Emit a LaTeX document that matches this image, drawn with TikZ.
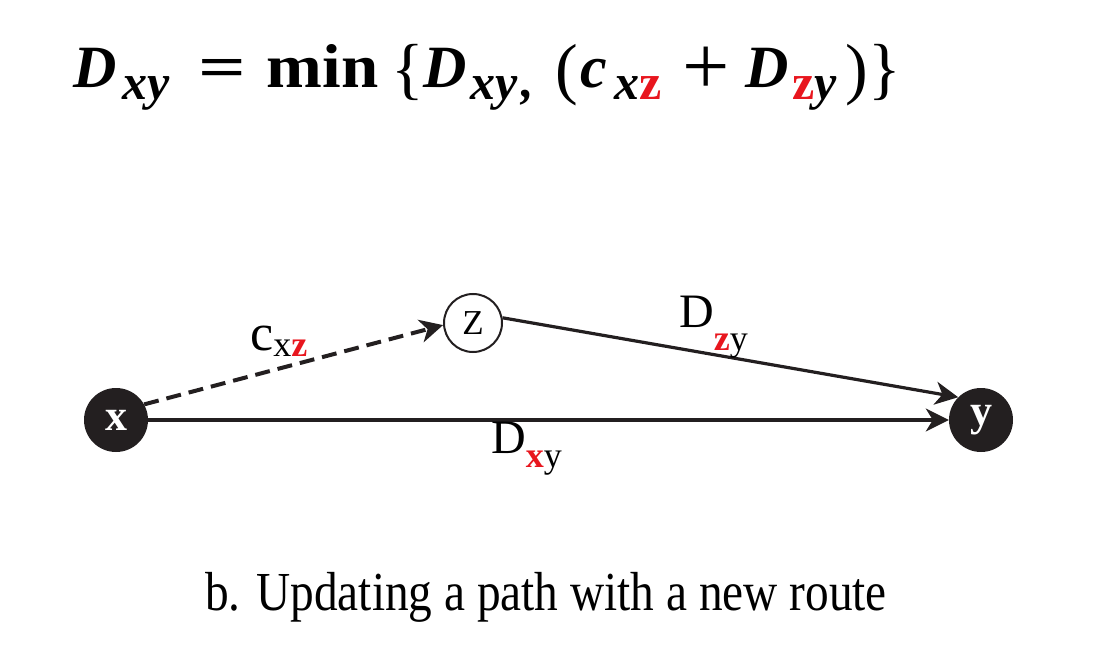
\documentclass[tikz,border=0pt]{standalone}
\usepackage{fontspec}
\setmainfont{Liberation Serif}
\usetikzlibrary{arrows.meta}
\definecolor{lred}{RGB}{232,22,30}
\definecolor{nodeblack}{RGB}{35,31,32}
% place #3 at horizontal offset #1 pt, raised by #2 pt
\newcommand{\putat}[3]{\rlap{\hspace{#1pt}\raisebox{#2pt}{#3}}}
\newcommand{\fbig}{\fontsize{60}{60}\selectfont\bfseries\itshape}
\newcommand{\fsm}{\fontsize{50}{50}\selectfont\bfseries\itshape}
\newcommand{\fdel}{\fontsize{68}{68}\selectfont\mdseries\upshape}
\newcommand{\rzs}{\textcolor{lred}{\upshape z}}
\newcommand{\fmlatext}{%
\putat{73}{0}{\fbig D}%
\putat{122}{-12}{\fsm xy}%
\putat{198}{0}{\fontsize{60}{60}\selectfont\bfseries\scalebox{1.4}[1]{=}}%
\putat{266}{0}{\fontsize{62}{62}\selectfont\bfseries\scalebox{1.08}[1]{min}}%
\putat{391}{-4}{\fdel\{}%
\putat{423}{0}{\fbig D}%
\putat{470}{-12}{\fsm xy}%
\putat{521}{-10}{\fsm ,}%
\putat{555}{-4}{\fdel (}%
\putat{580}{0}{\fbig c}%
\putat{614}{-12}{\fsm x}%
\putat{639}{-12}{\fsm\rzs}%
\putat{682}{-7}{\fontsize{84}{84}\selectfont\mdseries\upshape +}%
\putat{745}{0}{\fbig D}%
\putat{792}{-12}{\fsm\rzs y}%
\putat{845}{-4}{\fdel )}%
\putat{868}{-4}{\fdel\}}%
\hspace{900pt}}
\newcommand{\captext}{\scalebox{0.86}[1]{\fontsize{55}{55}\selectfont b. Updating a path with a new route}}
\begin{document}
\begin{tikzpicture}[x=1pt,y=-1pt,
  blacknode/.style={circle,fill=nodeblack,minimum size=64pt,inner sep=0pt,text=white,font=\fontsize{44}{44}\selectfont\bfseries},
  whitenode/.style={circle,draw=nodeblack,line width=2pt,minimum size=58pt,inner sep=0pt,font=\fontsize{35}{35}\selectfont},
  conn/.style={draw=nodeblack,line width=3.2pt,-{Stealth[length=23pt,width=23pt,inset=7pt]}},
  dashconn/.style={conn,line width=4pt,dash pattern=on 15pt off 8pt},
  lbl/.style={anchor=base west,inner sep=0pt,font=\fontsize{48}{48}\selectfont}
]
\useasboundingbox (0,0) rectangle (1114,652);

% formula
\node[anchor=base west,inner sep=0pt] (formula) at (0,88) {\fmlatext};

% nodes
\node[blacknode] (x) at (116,420) {x};
\node[blacknode] (y) at (981,420) {y};
\node[whitenode] (z) at (473,323) {Z};

% connectors
\draw[conn] (x) -- (y);
\draw[dashconn] (x.29) -- (z.184);
\draw[conn] (z.10) -- (y.135);

% labels
\node[lbl] (lcxz) at (250,350) {\fontsize{52}{52}\selectfont c\raisebox{-6pt}{\fontsize{36}{36}\selectfont x\textcolor{lred}{\bfseries z}}};
\node[lbl] (ldzy) at (679,327) {D\raisebox{-23pt}{\fontsize{36}{36}\selectfont\textcolor{lred}{\bfseries z}y}};
\node[lbl] (ldxy) at (491,453) {D\raisebox{-14pt}{\fontsize{36}{36}\selectfont\textcolor{lred}{\bfseries x}y}};

% caption
\node[anchor=base west,inner sep=0pt] (caption) at (205,610) {\captext};
\end{tikzpicture}
\end{document}
